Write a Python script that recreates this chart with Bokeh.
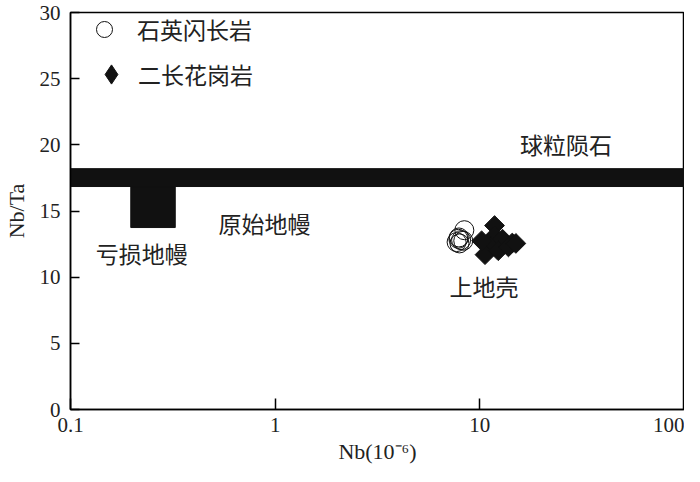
from bokeh.plotting import figure
from bokeh.models import (ColumnDataSource, FixedTicker, CustomJSTickFormatter,
                          Legend, LegendItem)
from bokeh.core.properties import value
from bokeh.embed import file_html
from bokeh.resources import INLINE

# ---- data ----
# 石英闪长岩 (open circles)
qd_nb = [8.4, 7.9, 8.1, 7.7, 7.95, 8.3, 7.85]
qd_ratio = [13.55, 13.0, 12.8, 12.65, 12.55, 12.75, 12.9]
# 二长花岗岩 (filled diamonds)
mg_nb = [11.8, 11.8, 12.9, 14.4, 11.3, 10.6, 12.3, 13.8, 15.0, 10.2]
mg_ratio = [13.9, 13.1, 12.87, 12.58, 12.3, 11.7, 12.0, 12.29, 12.55, 12.75]

# reference fields
chondrite_band = [16.85, 18.2]          # 球粒陨石 Nb/Ta range
depleted_nb = [0.197, 0.325]            # 亏损地幔 Nb range
depleted_ratio = [13.75, 16.85]         # 亏损地幔 Nb/Ta range

label_text = ["球粒陨石", "原始地幔", "亏损地幔", "上地壳"]
label_x = [15.7, 0.528, 0.133, 7.1]
label_y = [20.1, 14.1, 11.8, 9.3]

x_ticks = [0.1, 1, 10, 100]
y_ticks = [0, 5, 10, 15, 20, 25, 30]

BLACK = "#111111"
CJK = "Noto Sans CJK SC"
SERIF = "Liberation Serif"

p = figure(width=684, height=466, x_axis_type="log",
           x_range=(0.1, 100), y_range=(0, 30),
           output_backend="svg", toolbar_location=None,
           min_border_left=63, min_border_right=0,
           min_border_top=12, min_border_bottom=50)

p.grid.visible = False
p.outline_line_color = "black"
p.outline_line_width = 1.5
p.background_fill_color = "white"
p.border_fill_color = "white"

# chondrite band across full width
p.quad(left=[x_ticks[0]], right=[x_ticks[-1]],
       bottom=[chondrite_band[0]], top=[chondrite_band[1]],
       fill_color=BLACK, line_color=BLACK)
# depleted mantle box
p.quad(left=[depleted_nb[0]], right=[depleted_nb[1]],
       bottom=[depleted_ratio[0]], top=[depleted_ratio[1]],
       fill_color=BLACK, line_color=BLACK)

p.scatter(mg_nb, mg_ratio, marker="square", angle=0.785398, size=14,
          fill_color=BLACK, line_color=BLACK)
r_qd = p.scatter(qd_nb, qd_ratio, marker="circle", size=19,
                 fill_color=None, line_color=BLACK, line_width=1)
# legend key for the diamonds (legend glyphs ignore rotation); not shown in plot
nan = float("nan")
r_mg_key = p.scatter(x=[nan], y=[nan], marker="diamond",
                     fill_color=BLACK, line_color=BLACK)

src = ColumnDataSource(dict(x=label_x, y=label_y, t=label_text))
p.text(x="x", y="y", text="t", source=src, text_font=value(CJK),
       text_font_size="23px", text_color="#222222",
       text_baseline="middle", text_align="left")

def make_legend(label, rend, gw, gh, loc):
    lg = Legend(items=[LegendItem(label=label, renderers=[rend])],
                location=loc, orientation="vertical")
    lg.label_text_font = CJK
    lg.label_text_font_size = "23px"
    lg.label_text_color = "#222222"
    lg.border_line_color = None
    lg.background_fill_alpha = 0
    lg.margin = 0
    lg.padding = 0
    lg.glyph_width = gw
    lg.glyph_height = gh
    lg.label_height = gh
    lg.label_width = 140
    lg.label_standoff = 3
    return lg

# legend positions in screen px from frame bottom-left
p.add_layout(make_legend("石英闪长岩", r_qd, 60, 40, (4, 360)))
p.add_layout(make_legend("二长花岗岩", r_mg_key, 48, 48, (17, 311)))

for ax in (p.xaxis[0], p.yaxis[0]):
    ax.axis_line_color = "black"
    ax.axis_line_width = 1.5
    ax.major_tick_line_color = "black"
    ax.major_tick_line_width = 1.5
    ax.major_tick_in = 9
    ax.major_tick_out = 0
    ax.minor_tick_in = 0
    ax.minor_tick_out = 0
    ax.major_label_text_font = SERIF
    ax.major_label_text_font_size = "21px"
    ax.major_label_text_color = "#222222"
    ax.axis_label_text_font = SERIF
    ax.axis_label_text_font_size = "22px"
    ax.axis_label_text_font_style = "normal"
    ax.axis_label_text_color = "#222222"

p.xaxis.ticker = FixedTicker(ticks=x_ticks, minor_ticks=[])
p.xaxis.formatter = CustomJSTickFormatter(code="return String(Number(tick.toPrecision(3)));")
p.yaxis.ticker = FixedTicker(ticks=y_ticks, minor_ticks=[])
p.xaxis.major_tick_in = 11
p.xaxis.major_label_standoff = 8
p.yaxis.major_label_standoff = 10
p.xaxis.axis_label = "Nb(10⁻⁶)"
p.yaxis.axis_label = "Nb/Ta"
p.xaxis.axis_label_standoff = 4
p.yaxis.axis_label_standoff = 8

open("out.html", "w").write(file_html(p, INLINE))
